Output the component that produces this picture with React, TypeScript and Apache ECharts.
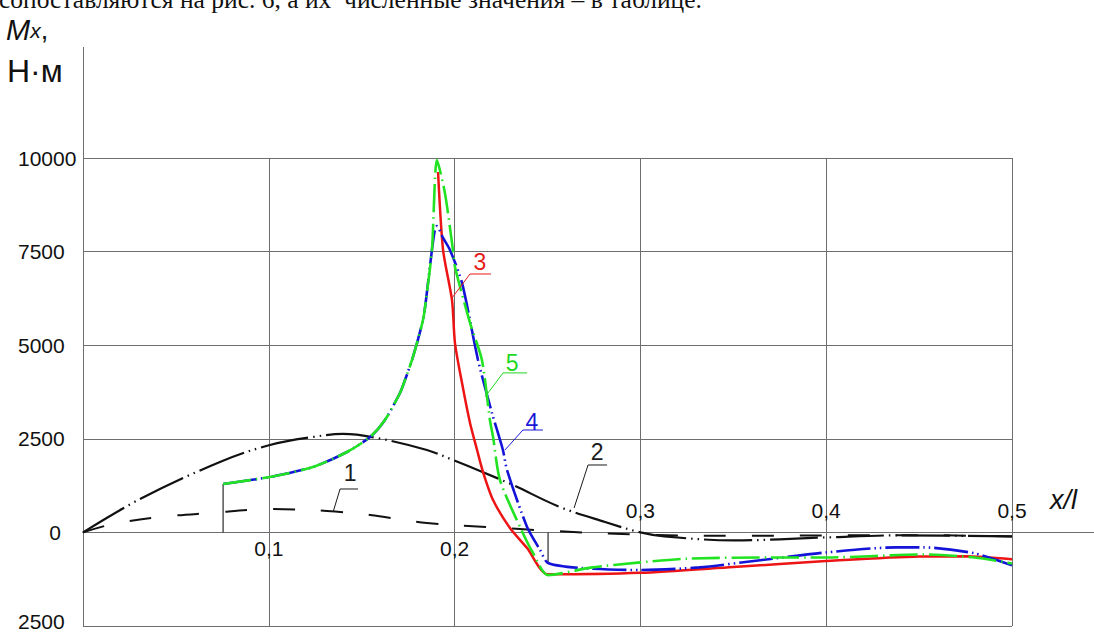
import React, { useEffect, useRef } from "react";
import * as echarts from "echarts";

// Axis ticks and their printed labels
const xTicksBelow = [0.1, 0.2];
const xLabelsBelow = ["0,1", "0,2"];
const xTicksAbove = [0.3, 0.4, 0.5];
const xLabelsAbove = ["0,3", "0,4", "0,5"];
const yTicks = [-2500, 0, 2500, 5000, 7500, 10000];
const yTickLabels = ["2500", "0", "2500", "5000", "7500", "10000"];
const Y_MIN = -2500;
const Y_MAX = 10000;

// Curve 1 – dashed black
const curve1: [number, number][] = [
  [0, 0], [0.0161, 224], [0.0414, 411], [0.0684, 518], [0.1006, 625],
  [0.1313, 572], [0.1545, 465], [0.1851, 251], [0.2174, 145], [0.253, 37],
  [0.3, -60], [0.35, -90], [0.4, -80], [0.45, -75], [0.5, -110],
];

// Curve 2 – dash-dot-dot black
const curve2: [number, number][] = [
  [0, 0], [0.0307, 892], [0.0737, 1881], [0.1006, 2335], [0.1238, 2549],
  [0.1399, 2629], [0.1582, 2522], [0.1851, 2201], [0.1991, 1934], [0.2137, 1640],
  [0.2314, 1266], [0.2567, 678], [0.281, 277], [0.3, 0], [0.313, -107],
  [0.35, -214], [0.4, -134], [0.4375, -80], [0.5, -107],
];

// Curve 3 – red solid
const curve3: [number, number][] = [
  [0.1911, 9626], [0.1938, 7542], [0.1986, 6207], [0.2002, 5058], [0.204, 3990],
  [0.2083, 2922], [0.2121, 2201], [0.2153, 1613], [0.2207, 865], [0.2298, 117],
  [0.239, -417], [0.2503, -1120], [0.3, -1080], [0.35, -925], [0.4, -767],
  [0.45, -645], [0.475, -640], [0.5, -720],
];

// Curve 4 – blue
const curve4: [number, number][] = [
  [0.0754, 1293], [0.1006, 1480], [0.1238, 1747], [0.1421, 2148], [0.1545, 2549],
  [0.1625, 3002], [0.1706, 3723], [0.1733, 4070], [0.1776, 4685], [0.183, 5674],
  [0.1846, 6208], [0.1878, 7544], [0.1893, 8050], [0.1905, 8184], [0.1938, 7865],
  [0.1975, 7544], [0.204, 6663], [0.2126, 4606], [0.2201, 3191], [0.226, 2202],
  [0.2282, 1667], [0.239, 144], [0.246, -470], [0.2503, -817], [0.2687, -955],
  [0.3, -1005], [0.3317, -935], [0.3633, -750], [0.4, -535], [0.4377, -400],
  [0.4525, -400], [0.48, -560], [0.5, -880],
];

// Curve 5 – green
const curve5: [number, number][] = [
  [0.0754, 1293], [0.1006, 1480], [0.1238, 1747], [0.1421, 2148], [0.1545, 2549],
  [0.1625, 3002], [0.1706, 3723], [0.1733, 4070], [0.1776, 4685], [0.183, 5674],
  [0.1846, 6208], [0.1878, 7544], [0.1905, 9947], [0.1948, 9062], [0.1991, 7544],
  [0.2002, 7090], [0.2083, 5594], [0.2147, 4606], [0.219, 3003], [0.2207, 2549],
  [0.2244, 1400], [0.2352, 144], [0.2422, -550], [0.2503, -1140], [0.274, -935],
  [0.3, -800], [0.3253, -700], [0.37, -670], [0.4, -670], [0.4525, -590],
  [0.48, -670], [0.5, -830],
];

// Thin vertical jumps of the moment diagram
const jumpA: [number, number][] = [[0.0754, 0], [0.0754, 1293]];
const jumpB: [number, number][] = [[0.2503, 0], [0.2503, -817]];

// Numbered leader tags: anchor on a curve (data units), then pixel offsets
const curveTags = [
  { text: "1", color: "#1a1a1a", at: [0.1346, 545], elbow: [7, -23], end: [25, -23], label: [17, -39] },
  { text: "2", color: "#1a1a1a", at: [0.2643, 652], elbow: [14, -43], end: [33, -43], label: [23, -56] },
  { text: "3", color: "#e51c1c", at: [0.1986, 6261], elbow: [18, -24], end: [39, -24], label: [28, -36] },
  { text: "4", color: "#1a1ad6", at: [0.2271, 2201], elbow: [18, -20], end: [38, -20], label: [27, -28] },
  { text: "5", color: "#1fd81f", at: [0.2164, 3619], elbow: [18, -24], end: [42, -24], label: [27, -34] },
];

const SANS = "'Liberation Sans', Arial, sans-serif";
const GRID_COLOR = "#6e6e6e";
const GRID = { left: 83, right: 82, top: 158, bottom: 6 };
const GRID_H = 632 - GRID.top - GRID.bottom;
// distance of the zero level from the grid's bottom and top edges
const ZERO_FROM_BOTTOM = (GRID_H * (0 - Y_MIN)) / (Y_MAX - Y_MIN);
const ZERO_FROM_TOP = GRID_H - ZERO_FROM_BOTTOM;

const pickLabel = (ticks: number[], labels: string[]) => (v: number) => {
  const i = ticks.findIndex((t) => Math.abs(t - v) < 1e-9);
  return i >= 0 ? labels[i] : "";
};

const lineSeries = (
  name: string,
  data: [number, number][],
  color: string,
  width: number,
  type: any,
  smooth: number | boolean,
  z = 2
) => ({
  name,
  type: "line",
  data,
  xAxisIndex: 0,
  yAxisIndex: 0,
  showSymbol: false,
  symbol: "none",
  smooth,
  z,
  lineStyle: { color, width, type, cap: "butt" },
  emphasis: { disabled: true },
});

const axisLabelBase = { fontSize: 21, fontFamily: SANS, color: "#111" };

const buildOption = () => ({
  animation: false,
  backgroundColor: "#ffffff",
  grid: { ...GRID, containLabel: false, outerBoundsMode: "none" },
  xAxis: [
    {
      type: "value",
      position: "bottom",
      offset: -ZERO_FROM_BOTTOM,
      min: 0,
      max: 0.5,
      interval: 0.1,
      axisLine: { onZero: false, lineStyle: { color: GRID_COLOR, width: 1 } },
      axisTick: { show: false },
      splitLine: { show: true, lineStyle: { color: GRID_COLOR, width: 1 } },
      axisLabel: { ...axisLabelBase, formatter: pickLabel(xTicksBelow, xLabelsBelow), margin: 6 },
    },
    {
      type: "value",
      position: "top",
      offset: -ZERO_FROM_TOP,
      min: 0,
      max: 0.5,
      interval: 0.1,
      axisLine: { onZero: false, lineStyle: { color: GRID_COLOR, width: 1 } },
      axisTick: { show: false },
      splitLine: { show: false },
      axisLabel: {
        ...axisLabelBase,
        formatter: pickLabel(xTicksAbove, xLabelsAbove),
        showMaxLabel: true,
        margin: 11,
      },
    },
  ],
  yAxis: {
    type: "value",
    min: Y_MIN,
    max: Y_MAX,
    interval: 2500,
    axisLine: { show: true, onZero: false, lineStyle: { color: GRID_COLOR, width: 1 } },
    axisTick: { show: false },
    splitLine: { show: true, lineStyle: { color: GRID_COLOR, width: 1 } },
    axisLabel: {
      ...axisLabelBase,
      formatter: (v: number) => {
        const t = pickLabel(yTicks, yTickLabels)(v);
        if (v === 0) return "{z|" + t + "}";
        if (v === Y_MIN) return "{b|" + t + "}";
        return t;
      },
      align: "left",
      margin: 65,
      rich: {
        z: { ...axisLabelBase, width: 43, align: "right" },
        b: { ...axisLabelBase, padding: [0, 0, 10, 0] },
      },
    },
  },
  series: [
    lineSeries("jumpA", jumpA, "#2a2a2a", 1.2, "solid", false, 1),
    lineSeries("jumpB", jumpB, "#2a2a2a", 1.2, "solid", false, 1),
    lineSeries("1", curve1, "#111111", 2, [22, 26], 0.35),
    lineSeries("2", curve2, "#111111", 2.2, [48, 5, 1.5, 5, 1.5, 5], 0.35),
    lineSeries("3", curve3, "#ec1414", 2.5, "solid", 0.25, 3),
    lineSeries("4", curve4, "#1414d8", 2.6, [34, 4, 1.5, 4, 1.5, 4], 0.25, 4),
    lineSeries("5", curve5, "#22e322", 2.6, [28, 5, 1.5, 5], 0.25, 5),
  ],
});

const buildGraphics = (chart: echarts.ECharts) => {
  const toPx = (x: number, y: number) =>
    chart.convertToPixel({ xAxisIndex: 0, yAxisIndex: 0 }, [x, y]) as number[];
  const [x0, yTop] = toPx(0, Y_MAX);
  const [xEnd, yZero] = toPx(0.5, 0);
  const els: any[] = [
    // caption line running off the top edge
    {
      type: "text",
      x: -1,
      y: -1,
      style: {
        text: "сопоставляются на рис. 6, а их  численные значения – в таблице.",
        font: "25.5px 'Liberation Serif', 'Times New Roman', serif",
        fill: "#111",
        verticalAlign: "middle",
      },
    },
    // vertical axis title
    {
      type: "text",
      x: 6,
      y: 30,
      style: {
        text: "{m|M}{s|x}{c|,}",
        verticalAlign: "middle",
        rich: {
          m: { font: "italic 29px " + SANS, fill: "#111" },
          s: { font: "italic 21px " + SANS, fill: "#111" },
          c: { font: "27px " + SANS, fill: "#111" },
        },
      },
    },
    {
      type: "text",
      x: 7,
      y: 71,
      style: { text: "Н·м", font: "32px " + SANS, fill: "#111", verticalAlign: "middle" },
    },
    // horizontal axis title
    {
      type: "text",
      x: 1050,
      y: 500,
      style: { text: "x/l", font: "italic 27px " + SANS, fill: "#111", verticalAlign: "middle" },
    },
    // axis line extensions beyond the grid
    {
      type: "line",
      shape: { x1: Math.round(x0) + 0.5, y1: 47, x2: Math.round(x0) + 0.5, y2: yTop },
      style: { stroke: GRID_COLOR, lineWidth: 1 },
    },
    {
      type: "line",
      shape: { x1: xEnd, y1: Math.round(yZero) + 0.5, x2: 1094, y2: Math.round(yZero) + 0.5 },
      style: { stroke: GRID_COLOR, lineWidth: 1 },
    },
  ];
  curveTags.forEach((t) => {
    const [ax, ay] = toPx(t.at[0], t.at[1]);
    els.push({
      type: "polyline",
      z: 20,
      shape: {
        points: [
          [ax, ay],
          [ax + t.elbow[0], ay + t.elbow[1]],
          [ax + t.end[0], ay + t.end[1]],
        ],
      },
      style: { stroke: t.color, lineWidth: 1, fill: null },
    });
    els.push({
      type: "text",
      z: 20,
      x: ax + t.label[0],
      y: ay + t.label[1],
      style: {
        text: t.text,
        font: "23px " + SANS,
        fill: t.color,
        align: "center",
        verticalAlign: "middle",
      },
    });
  });
  return els;
};

export default function App() {
  const ref = useRef<HTMLDivElement>(null);
  useEffect(() => {
    if (!ref.current) return;
    const chart = echarts.init(ref.current, null, { renderer: "svg" });
    chart.setOption(buildOption() as any);
    chart.setOption({ graphic: buildGraphics(chart) } as any);
    return () => chart.dispose();
  }, []);
  return (
    <div
      ref={ref}
      style={{ position: "absolute", left: 0, top: 0, width: 1094, height: 632, background: "#fff" }}
    />
  );
}
